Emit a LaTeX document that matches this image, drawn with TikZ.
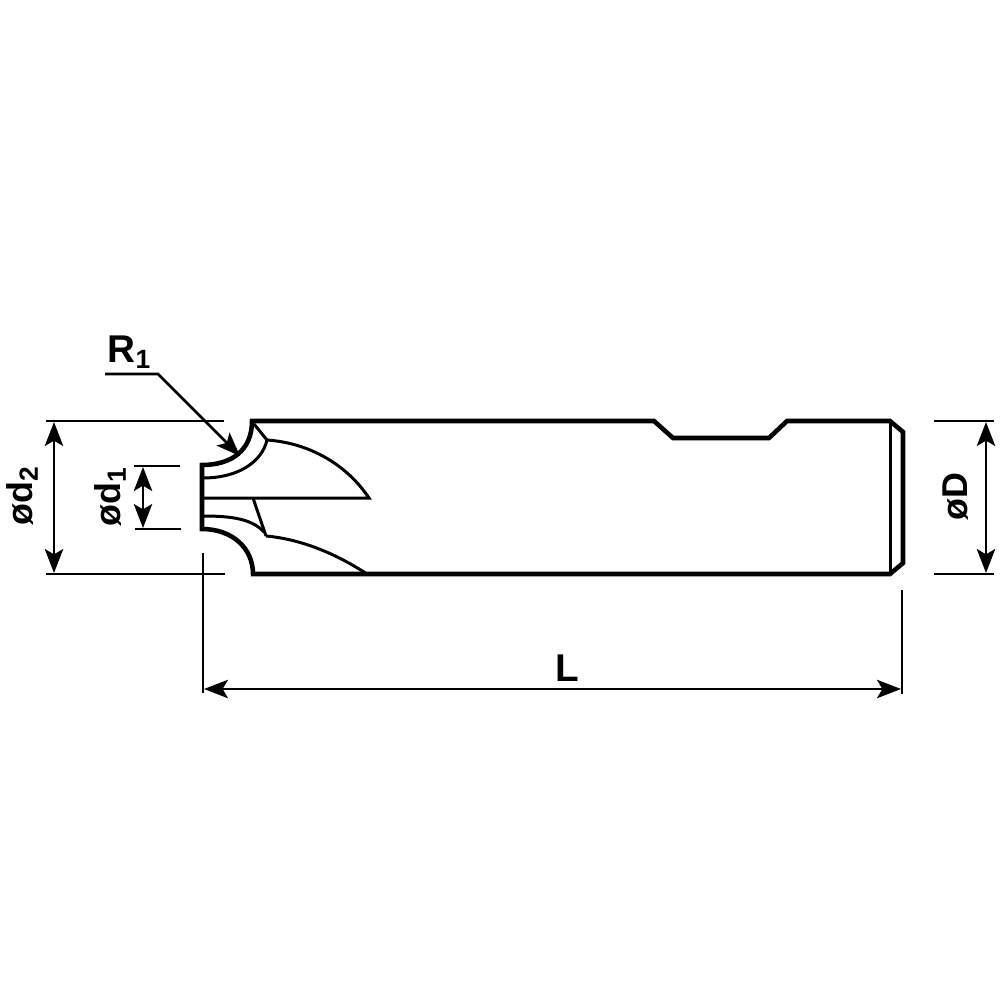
\documentclass[tikz,border=0pt]{standalone}
\usepackage{fontspec}
\setmainfont{Liberation Sans}
\usetikzlibrary{arrows.meta}

\newcommand{\lowered}[1]{\raisebox{-0.3ex}{\fontsize{7.5}{9}\selectfont #1}}

\tikzset{
  outline/.style={line width=1.3pt, line join=miter},
  edge/.style={line width=0.85pt},
  dimline/.style={line width=0.8pt},
  dimarrow/.style={line width=0.8pt, {Stealth[length=6.8pt,width=5.2pt,inset=1.5pt]}-{Stealth[length=6.8pt,width=5.2pt,inset=1.5pt]}},
  leader/.style={line width=0.8pt, -{Stealth[length=6.8pt,width=5.2pt,inset=1.5pt]}},
  dimlabel/.style={font=\bfseries\fontsize{11}{13}\selectfont, inner sep=0pt},
  sidelabel/.style={font=\bfseries\fontsize{10.2}{13}\selectfont, inner sep=0pt, rotate=90}
}

\begin{document}
\begin{tikzpicture}[x=0.01cm,y=-0.01cm]
  \useasboundingbox (0,0) rectangle (1000,1000);

  % cutter body
  \draw[outline] (202,465) .. controls (232,465) and (252,450) .. (252,421)
    -- (654,421) -- (673,438) -- (769,438) -- (787,421) -- (890,421)
    -- (903,432) -- (903,563) -- (890,574) -- (253,574)
    .. controls (253,548) and (232,529) .. (202,529) -- cycle;
  \draw[edge] (890,421) -- (890,574);

  % flutes
  \draw[edge] (254,424) -- (267,440)
    .. controls (262,462) and (238,478) .. (203,478);
  \draw[edge] (267,440) .. controls (310,443) and (347,465) .. (369,498) -- (203,498);
  \draw[edge] (253,498) -- (266,536);
  \draw[edge] (203,516) .. controls (232,516) and (252,519) .. (264,532);
  \draw[edge] (266,536) .. controls (300,539) and (335,553) .. (367,574);

  % extension lines
  \coordinate (d2top) at (46,421);
  \coordinate (d2bot) at (46,574);
  \coordinate (Dtop) at (934,421);
  \coordinate (Dbot) at (934,574);
  \draw[dimline] (d2top) -- (224,421);
  \draw[dimline] (d2bot) -- (225,574);
  \draw[dimline] (134,466) -- (180,466);
  \draw[dimline] (135,529) -- (181,529);
  \draw[dimline] (Dtop) -- (994,421);
  \draw[dimline] (Dbot) -- (994,574);
  \draw[dimline] (203,553) -- (203,693);
  \draw[dimline] (902,590) -- (902,694);

  % dimensions
  \draw[dimarrow] (54,422) -- (54,573);
  \draw[dimarrow] (143,467) -- (143,528);
  \draw[dimarrow] (986,422) -- (986,573);
  \draw[dimarrow] (204,689) -- (901,689);
  \draw[leader] (105,374) -- (158,374) -- (240,456);

  \node[dimlabel, anchor=base west] (labelR) at (107,362) {R\lowered{1}};
  \node[sidelabel] (labeldtwo) at (22,496) {ød\lowered{2}};
  \node[sidelabel] (labeldone) at (110,497) {ød\lowered{1}};
  \node[sidelabel] (labelD) at (956,497) {øD};
  \node[dimlabel] (labelL) at (567,668) {L};
\end{tikzpicture}
\end{document}
